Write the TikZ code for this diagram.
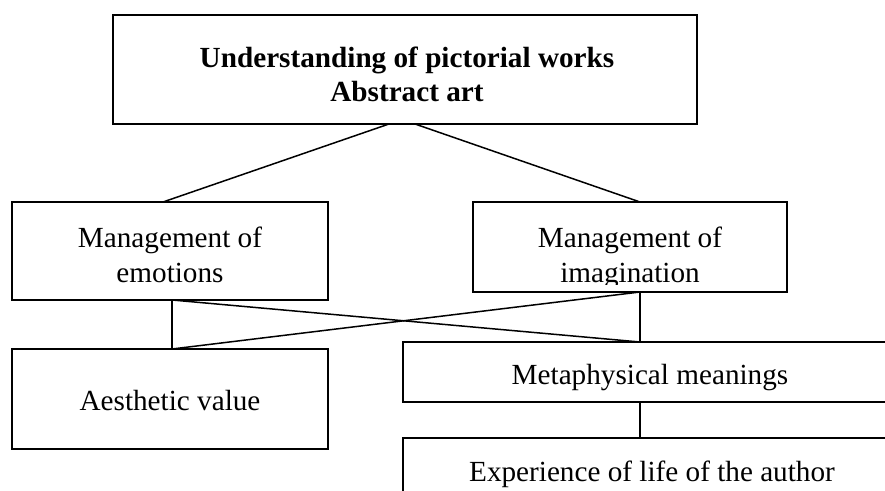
\documentclass[tikz,border=0pt]{standalone}
\usepackage{fontspec}
\setmainfont{Liberation Serif}
\begin{document}
\begin{tikzpicture}[x=0.5pt,y=-0.5pt,
  box/.style={draw,line width=1pt,rectangle,inner sep=0pt,outer sep=0pt},
  txt/.style={inner sep=0pt,anchor=base,font=\fontsize{14.6}{17}\selectfont},
  btxt/.style={txt,font=\fontsize{14.6}{17}\selectfont\bfseries},
  link/.style={line width=0.75pt}]
\useasboundingbox (0,0) rectangle (885,491);
\clip (0,0) rectangle (885,491);
% boxes
\node[box,minimum width=292pt,minimum height=54.5pt] (top) at (405,69.5) {};
\node[box,minimum width=158pt,minimum height=49pt] (emo) at (170,251) {};
\node[box,minimum width=157pt,minimum height=45pt] (ima) at (630,247) {};
\node[box,minimum width=158pt,minimum height=50pt] (aes) at (170,399) {};
\node[box,minimum width=247pt,minimum height=30pt] (met) at (650,372) {};
\node[box,minimum width=247pt,minimum height=41pt] (exp) at (650,479) {};
% texts
\node[btxt] (t1) at (407,68) {Understanding of pictorial works};
\node[btxt] (t2) at (407,102) {Abstract art};
\node[txt] (e1) at (170,248) {Management of};
\node[txt] (e2) at (170,283) {emotions};
\begin{scope}
\clip (474,203) rectangle (786,285);
\node[txt] (i1) at (630,248) {Management of};
\node[txt] (i2) at (630,283) {imagination};
\end{scope}
\node[txt] (a1) at (170,411) {Aesthetic value};
\node[txt] (m1) at (650,385) {Metaphysical meanings};
\node[txt] (x1) at (652,482) {Experience of life of the author};
% connectors
\draw[link] ([xshift=-8pt]top.south) -- ([xshift=-3.5pt]emo.north);
\draw[link] ([xshift=5pt]top.south) -- ([xshift=5pt]ima.north);
\draw[link] ([xshift=1pt]emo.south) -- ([xshift=1pt]aes.north);
\draw[link] ([xshift=1pt]emo.south) -- ([xshift=-5pt]met.north);
\draw[link] ([xshift=5pt]ima.south) -- ([xshift=1pt]aes.north);
\draw[link] ([xshift=5pt]ima.south) -- ([xshift=-5pt]met.north);
\draw[link] ([xshift=-5pt]met.south) -- ([xshift=-5pt]exp.north);
\end{tikzpicture}
\end{document}
